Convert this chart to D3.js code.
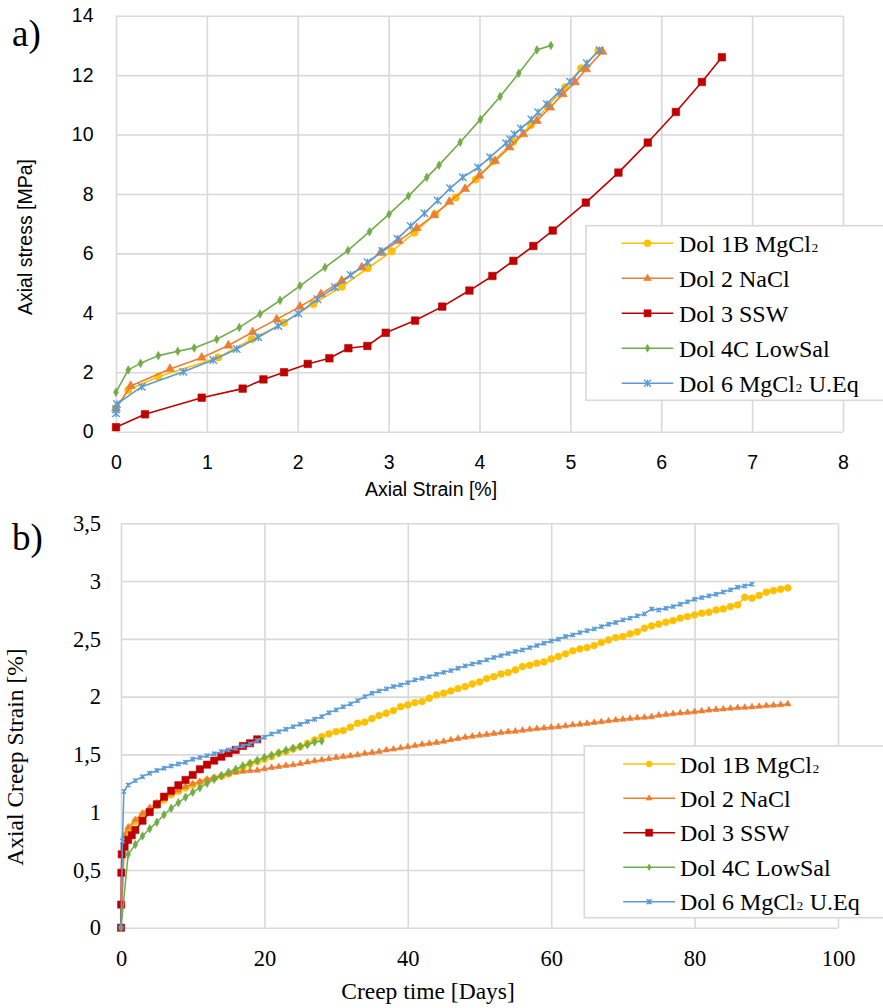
<!DOCTYPE html>
<html>
<head>
<meta charset="utf-8">
<script src="https://cdn.jsdelivr.net/npm/d3@7"></script>
<style>
  html, body { margin: 0; padding: 0; background: #fff; }
  svg { display: block; }
</style>
</head>
<body>
<svg id="fig" width="883" height="1008"></svg>
<script>
// ---------- series names and styles ----------
const seriesNames = ["Dol 1B MgCl\u2082", "Dol 2 NaCl", "Dol 3 SSW", "Dol 4C LowSal", "Dol 6 MgCl\u2082 U.Eq"];
const seriesColors = ["#FFC000", "#ED7D31", "#C00000", "#70AD47", "#5B9BD5"];
const seriesMarkers = ["circle", "triangle", "square", "diamond", "star"];

// ---------- panel a: axial strain [%] vs axial stress [MPa] ----------
const strainTicks = [0, 1, 2, 3, 4, 5, 6, 7, 8];
const stressTicks = [0, 2, 4, 6, 8, 10, 12, 14];

const a_dol1B = [[0,0.80],[0.135,1.40],[0.466,1.85],[1.126,2.50],[1.493,3.11],[1.849,3.67],[2.172,4.30],[2.484,4.88],[2.77,5.50],[3.035,6.07],[3.284,6.70],[3.511,7.32],[3.739,7.88],[3.959,8.49],[4.15,9.10],[4.373,9.76],[4.565,10.32],[4.75,10.95],[4.942,11.59],[5.118,12.23],[5.309,12.82]];
const a_dol2 = [[0,0.78],[0.162,1.54],[0.594,2.11],[0.943,2.49],[1.236,2.90],[1.504,3.35],[1.768,3.78],[2.025,4.21],[2.256,4.63],[2.484,5.08],[2.704,5.53],[2.91,6.02],[3.112,6.42],[3.31,6.85],[3.50,7.29],[3.669,7.74],[3.841,8.17],[3.999,8.62],[4.172,9.11],[4.33,9.57],[4.483,10.01],[4.631,10.46],[4.777,10.91],[4.917,11.36],[5.052,11.76],[5.173,12.20],[5.353,12.79]];
const a_dol3 = [[0,0.15],[0.319,0.585],[0.943,1.145],[1.394,1.45],[1.622,1.76],[1.849,2.0],[2.11,2.28],[2.348,2.47],[2.557,2.81],[2.766,2.885],[2.968,3.33],[3.291,3.74],[3.59,4.21],[3.889,4.75],[4.142,5.24],[4.373,5.75],[4.593,6.25],[4.806,6.77],[5.17,7.71],[5.529,8.72],[5.852,9.73],[6.161,10.76],[6.447,11.77],[6.667,12.60]];
const a_dol4C = [[0,1.33],[0.135,2.08],[0.27,2.30],[0.466,2.56],[0.68,2.71],[0.86,2.82],[1.108,3.11],[1.357,3.51],[1.585,3.96],[1.805,4.42],[2.025,4.91],[2.30,5.53],[2.553,6.10],[2.79,6.73],[3.005,7.32],[3.218,7.93],[3.42,8.56],[3.555,8.97],[3.787,9.74],[4.01,10.51],[4.227,11.28],[4.432,12.06],[4.632,12.85],[4.786,13.0]];
const a_dol6 = [[0,0.62],[0,0.75],[0.01,0.93],[0.283,1.515],[0.74,2.02],[1.07,2.41],[1.328,2.78],[1.566,3.18],[1.786,3.56],[2.007,3.98],[2.216,4.46],[2.41,4.86],[2.583,5.27],[2.768,5.70],[2.93,6.08],[3.097,6.49],[3.243,6.92],[3.394,7.35],[3.54,7.78],[3.676,8.19],[3.816,8.56],[3.985,8.89],[4.117,9.24],[4.293,9.71],[4.337,9.84],[4.385,10.01],[4.455,10.20],[4.572,10.51],[4.645,10.75],[4.741,11.03],[4.873,11.43],[4.997,11.78],[5.181,12.40],[5.32,12.84]];

// ---------- panel b: creep time [days] vs axial creep strain [%] ----------
const dayTicks = [0, 20, 40, 60, 80, 100];
const creepTicks = [0, 0.5, 1, 1.5, 2, 2.5, 3, 3.5];
const creepTickLabels = ["0", "0,5", "1", "1,5", "2", "2,5", "3", "3,5"];

const b_dol1B = [[0,0],[0.5,0.78],[1,0.846],[2,0.92],[3,0.976],[4,1.02],[5,1.06],[6,1.105],[7,1.15],[8,1.18],[9,1.21],[10,1.235],[11,1.255],[12,1.275],[13,1.295],[14,1.31],[15,1.33],[16,1.355],[17,1.385],[18,1.417],[19,1.437],[20,1.458],[21,1.48],[22,1.51],[23,1.524],[24,1.547],[25,1.567],[26,1.596],[27,1.625],[28,1.654],[29,1.677],[30,1.697],[31,1.706],[32,1.735],[33,1.77],[34,1.78],[35,1.81],[36,1.836],[37,1.856],[38,1.879],[39,1.913],[40,1.928],[41,1.948],[42,1.957],[43,1.986],[44,2.015],[45,2.029],[46,2.049],[47,2.07],[48,2.087],[49,2.11],[50,2.127],[51,2.156],[52,2.173],[53,2.196],[54,2.208],[55,2.231],[56,2.26],[57,2.272],[58,2.289],[59,2.30],[60,2.326],[61,2.347],[62,2.37],[63,2.396],[64,2.413],[65,2.424],[66,2.442],[67,2.468],[68,2.491],[69,2.511],[70,2.52],[71,2.543],[72,2.56],[73,2.592],[74,2.612],[75,2.627],[76,2.644],[77,2.658],[78,2.679],[79,2.693],[80,2.707],[81,2.722],[82,2.73],[83,2.75],[84,2.759],[85,2.779],[86,2.794],[87,2.86],[88,2.852],[89,2.875],[90,2.904],[91,2.918],[92,2.93],[93,2.941]];
const b_dol2 = [[0,0],[0.5,0.80],[1,0.87],[2,0.935],[3,0.99],[4,1.04],[5,1.08],[6,1.12],[7,1.16],[8,1.19],[9,1.22],[10,1.245],[11,1.265],[12,1.285],[13,1.30],[14,1.315],[15,1.335],[16,1.345],[17,1.352],[18,1.358],[19,1.362],[20,1.374],[21,1.386],[22,1.394],[23,1.403],[24,1.409],[25,1.42],[26,1.432],[27,1.443],[28,1.452],[29,1.461],[30,1.472],[31,1.48],[32,1.487],[33,1.495],[34,1.508],[35,1.515],[36,1.524],[37,1.537],[38,1.545],[39,1.556],[40,1.565],[41,1.575],[42,1.586],[43,1.594],[44,1.602],[45,1.612],[46,1.625],[47,1.637],[48,1.648],[49,1.656],[50,1.665],[51,1.672],[52,1.68],[53,1.688],[54,1.695],[55,1.70],[56,1.708],[57,1.716],[58,1.722],[59,1.728],[60,1.734],[61,1.739],[62,1.746],[63,1.755],[64,1.76],[65,1.767],[66,1.775],[67,1.782],[68,1.79],[69,1.797],[70,1.804],[71,1.81],[72,1.816],[73,1.82],[74,1.825],[75,1.838],[76,1.845],[77,1.851],[78,1.858],[79,1.863],[80,1.869],[81,1.875],[82,1.882],[83,1.888],[84,1.892],[85,1.898],[86,1.903],[87,1.906],[88,1.91],[89,1.915],[90,1.921],[91,1.925],[92,1.929],[93,1.936]];
const b_dol3 = [[0,0],[0.02,0.2],[0.05,0.476],[0.1,0.635],[0.5,0.70],[1,0.76],[1.5,0.80],[2,0.846],[3,0.926],[4,1.0],[5,1.068],[6,1.134],[7,1.186],[8,1.233],[9,1.279],[10,1.322],[11,1.371],[12,1.411],[13,1.446],[14,1.48],[15,1.51],[16,1.539],[17,1.573],[18,1.596],[19,1.63]];
const b_dol4C = [[0,0],[1,0.635],[2,0.72],[3,0.794],[4,0.857],[5,0.912],[6,0.978],[7,1.034],[8,1.082],[9,1.129],[10,1.172],[11,1.212],[12,1.25],[13,1.285],[14,1.316],[15,1.345],[16,1.371],[17,1.40],[18,1.423],[19,1.448],[20,1.473],[21,1.493],[22,1.513],[23,1.536],[24,1.553],[25,1.569],[26,1.584],[27,1.607],[28,1.616]];
const b_dol6 = [[0,0],[0.2,0.75],[0.4,1.18],[1,1.235],[2,1.273],[3,1.307],[4,1.337],[5,1.36],[6,1.38],[7,1.40],[8,1.417],[9,1.432],[10,1.458],[11,1.472],[12,1.489],[13,1.506],[14,1.524],[15,1.539],[16,1.553],[17,1.573],[18,1.59],[19,1.62],[20,1.648],[21,1.677],[22,1.697],[23,1.718],[24,1.74],[25,1.761],[26,1.784],[27,1.804],[28,1.827],[29,1.861],[30,1.885],[31,1.913],[32,1.937],[33,1.965],[34,2.0],[35,2.029],[36,2.049],[37,2.067],[38,2.087],[39,2.101],[40,2.121],[41,2.145],[42,2.159],[43,2.173],[44,2.194],[45,2.21],[46,2.225],[47,2.246],[48,2.266],[49,2.283],[50,2.298],[51,2.318],[52,2.338],[53,2.355],[54,2.373],[55,2.39],[56,2.404],[57,2.424],[58,2.442],[59,2.462],[60,2.482],[61,2.497],[62,2.52],[63,2.534],[64,2.554],[65,2.571],[66,2.586],[67,2.606],[68,2.627],[69,2.641],[70,2.664],[71,2.679],[72,2.699],[73,2.716],[74,2.759],[75,2.75],[76,2.765],[77,2.779],[78,2.8],[79,2.82],[80,2.843],[81,2.857],[82,2.872],[83,2.886],[84,2.906],[85,2.924],[86,2.947],[87,2.958],[88,2.973]];

// ---------- drawing ----------
const svg = d3.select("#fig");
svg.append("rect").attr("width", 883).attr("height", 1008).attr("fill", "#fff");

const GRID = "#d9d9d9";
const SANS = "'Liberation Sans', Arial, sans-serif";
const SERIF = "'Liberation Serif', 'Times New Roman', serif";

// marker path generator; size is the nominal width in px
function markerPath(kind, size) {
  if (kind === "star") {
    const r = size / 2;
    return `M${-r},${-r}L${r},${r}M${-r},${r}L${r},${-r}M0,${-r}L0,${r}`;
  }
  const types = { circle: d3.symbolCircle, triangle: d3.symbolTriangle, square: d3.symbolSquare, diamond: d3.symbolDiamond };
  const area = {
    circle: Math.PI * (size / 2) ** 2,
    triangle: Math.sqrt(3) / 4 * size * size,
    square: size * size,
    diamond: size * size * 0.5
  }[kind];
  return d3.symbol(types[kind], area)();
}

function drawMarker(g, kind, color, size, x, y, strokeW) {
  const p = g.append("path").attr("d", markerPath(kind, size)).attr("transform", `translate(${x},${y})`);
  if (kind === "star") {
    p.attr("fill", "none").attr("stroke", color).attr("stroke-width", strokeW || 1.3);
  } else {
    p.attr("fill", color).attr("stroke", color).attr("stroke-width", 0.6);
  }
}

function drawPanel(opt) {
  const { x, y, xTicks, yTicks, yLabels, tickFont, tickSize, xPad, yPad } = opt;
  const g = svg.append("g");
  const [x0, x1] = x.range();
  const [y0, y1] = y.range();

  // gridlines + tick labels through d3 axes
  const xAxis = d3.axisBottom(x).tickValues(xTicks).tickSizeInner(-(y0 - y1)).tickSizeOuter(0).tickPadding(xPad)
    .tickFormat(d => String(d));
  const yAxis = d3.axisLeft(y).tickValues(yTicks).tickSizeInner(-(x1 - x0)).tickSizeOuter(0).tickPadding(yPad)
    .tickFormat((d, i) => yLabels ? yLabels[i] : String(d));

  const gx = g.append("g").attr("transform", `translate(0,${y0})`).call(xAxis);
  const gy = g.append("g").attr("transform", `translate(${x0},0)`).call(yAxis);
  [gx, gy].forEach(ax => {
    ax.select(".domain").remove();
    ax.selectAll(".tick line").attr("stroke", GRID).attr("stroke-width", 1.6);
    ax.selectAll(".tick text").attr("fill", "#000").style("font-family", tickFont).style("font-size", tickSize + "px");
  });
  return g;
}

function drawSeries(g, x, y, data, i, mSize, lineW) {
  const line = d3.line().x(d => x(d[0])).y(d => y(d[1]));
  g.append("path").datum(data).attr("d", line).attr("fill", "none")
    .attr("stroke", seriesColors[i]).attr("stroke-width", lineW).attr("stroke-linejoin", "round");
  const mg = g.append("g");
  data.forEach(d => drawMarker(mg, seriesMarkers[i], seriesColors[i], mSize[i], x(d[0]), y(d[1]), mSize.starW));
}

// legend label: the subscript two sits on the baseline, set small
function legendLabel(textSel, name) {
  const parts = name.split("\u2082");
  parts.forEach((part, k) => {
    if (part.length) {
      textSel.append("tspan").text(part).attr("dy", k > 0 ? 4 : 0);
    }
    if (k < parts.length - 1) {
      textSel.append("tspan").text("\u2082").attr("dy", -4).style("font-size", "22px");
    }
  });
}

function drawLegend(box, rows, lineX, textX, mSize) {
  const g = svg.append("g");
  g.append("rect").attr("x", box.x).attr("y", box.y).attr("width", box.w).attr("height", box.h)
    .attr("fill", "#fff").attr("stroke", GRID).attr("stroke-width", 1.6);
  seriesNames.forEach((name, i) => {
    const cy = rows[i];
    g.append("line").attr("x1", lineX[0]).attr("x2", lineX[1]).attr("y1", cy).attr("y2", cy)
      .attr("stroke", seriesColors[i]).attr("stroke-width", 1.6);
    drawMarker(g, seriesMarkers[i], seriesColors[i], mSize[i], (lineX[0] + lineX[1]) / 2, cy, 1.3);
    const t = g.append("text").attr("x", textX).attr("y", cy + 8.5)
      .style("font-family", SERIF).style("font-size", "24px").attr("fill", "#000");
    legendLabel(t, name);
  });
}

// ----- panel a -----
const xA = d3.scaleLinear([0, 8], [116, 843]);
const yA = d3.scaleLinear([0, 14], [431.7, 15.7]);
const gA = drawPanel({ x: xA, y: yA, xTicks: strainTicks, yTicks: stressTicks, tickFont: SANS, tickSize: 19.5, xPad: 23, yPad: 22.5 });
const sizesA = [7.5, 9, 7.5, 6.5, 7.5];
sizesA.starW = 1.4;
[a_dol1B, a_dol2, a_dol3, a_dol4C, a_dol6].forEach((d, i) => drawSeries(gA, xA, yA, d, i, sizesA, 1.6));

svg.append("text").attr("x", 431).attr("y", 496).attr("text-anchor", "middle").text("Axial Strain [%]")
  .style("font-family", SANS).style("font-size", "19.5px");
svg.append("text").attr("transform", "translate(32,237) rotate(-90)").attr("text-anchor", "middle").text("Axial stress [MPa]")
  .style("font-family", SANS).style("font-size", "19.5px");
svg.append("text").attr("x", 12).attr("y", 46).text("a)").style("font-family", SERIF).style("font-size", "37px");

drawLegend({ x: 586, y: 225.7, w: 320, h: 174.6 }, [243.3, 278.3, 313.3, 348.3, 383.3], [621.7, 673.3], 679, [7, 7.5, 7, 6, 7]);

// ----- panel b -----
const xB = d3.scaleLinear([0, 100], [121, 838]);
const yB = d3.scaleLinear([0, 3.5], [927.7, 523.3]);
const gB = drawPanel({ x: xB, y: yB, xTicks: dayTicks, yTicks: creepTicks, yLabels: creepTickLabels, tickFont: SERIF, tickSize: 22.5, xPad: 22, yPad: 20 });
const sizesB = [6.8, 6.5, 7.2, 6.5, 4.5];
sizesB.starW = 1.3;
[b_dol1B, b_dol2, b_dol3, b_dol4C, b_dol6].forEach((d, i) => drawSeries(gB, xB, yB, d, i, sizesB, 1.5));

svg.append("text").attr("x", 428).attr("y", 999).attr("text-anchor", "middle").text("Creep time [Days]")
  .style("font-family", SERIF).style("font-size", "23.5px");
svg.append("text").attr("transform", "translate(23,757) rotate(-90)").attr("text-anchor", "middle").text("Axial Creep Strain [%]")
  .style("font-family", SERIF).style("font-size", "23.5px");
svg.append("text").attr("x", 12).attr("y", 550).text("b)").style("font-family", SERIF).style("font-size", "37px");

drawLegend({ x: 584.3, y: 746, w: 320, h: 171.7 }, [764, 798.3, 832.7, 867.3, 901.7], [623.3, 675], 680, [6, 6, 7, 5, 5]);
</script>
</body>
</html>
